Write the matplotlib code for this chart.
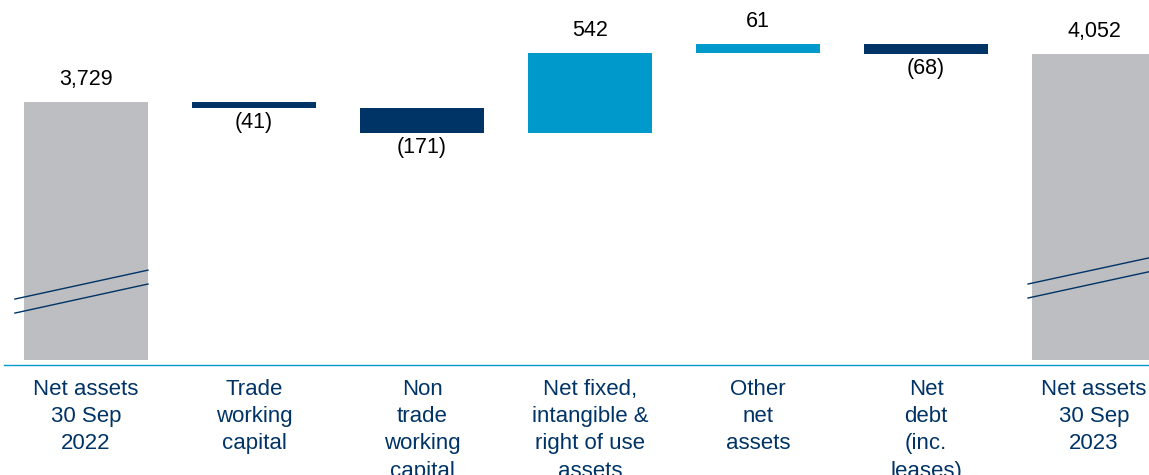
import numpy as np
import matplotlib
matplotlib.use('Agg')
import matplotlib.pyplot as plt

plt.rcParams['font.family'] = ['Liberation Sans', 'DejaVu Sans']

categories = ['Net assets\n30 Sep\n2022', 'Trade\nworking\ncapital',
              'Non\ntrade\nworking\ncapital',
              'Net fixed,\nintangible &\nright of use\nassets',
              'Other\nnet\nassets', 'Net\ndebt\n(inc.\nleases)',
              'Net assets\n30 Sep\n2023']
start_total = 3729
changes = [-41, -171, 542, 61, -68]
end_total = 4052
value_labels = ['3,729', '(41)', '(171)', '542', '61', '(68)', '4,052']

navy = '#003366'
blue = '#0099cc'
grey = '#bdbec1'

# axis is broken: bars start above the floor of the axis
axis_floor = 1944
bar_floor = 1977

fig = plt.figure(figsize=(11.49, 4.75), dpi=100)
ax = fig.add_axes([4/1149, 110/475, 1 - 4/1149, 365/475])

x = np.arange(len(categories))
w = 0.74

# totals
ax.bar(x[0], start_total - bar_floor, bottom=bar_floor, width=w, color=grey)
ax.bar(x[-1], end_total - bar_floor, bottom=bar_floor, width=w, color=grey)

# changes
level = start_total
for i, c in enumerate(changes):
    col = blue if c > 0 else navy
    ax.bar(x[i + 1], abs(c), bottom=min(level, level + c), width=w, color=col)
    level += c

# value labels
level = start_total
for i in range(len(categories)):
    if i == 0:
        y, off = start_total, 16
    elif i == len(categories) - 1:
        y, off = end_total, 16
    else:
        c = changes[i - 1]
        y = level + c
        off = 16 if c > 0 else -10.5
        level += c
    ax.annotate(value_labels[i], (x[i], y), xytext=(0, off),
                textcoords='offset points', ha='center', va='center',
                fontsize=15.5, color='black')

# break marks
for (x0, x1, y0s, y1s) in [(-0.423, 0.369, (2391, 2296), (2587, 2493)),
                           (5.607, 6.375, (2493, 2398), (2682, 2588))]:
    for ya, yb in zip(y0s, y1s):
        ax.plot([x0, x1], [ya, yb], color=navy, lw=1.0)

ax.set_xlim(-0.488, 6.327)
ax.set_ylim(axis_floor, 4418)
ax.set_xticks(x, categories, fontsize=16, color=navy, linespacing=1.39)
ax.tick_params(axis='x', length=0, pad=10)
ax.set_yticks([])
for s in ['top', 'right', 'left']:
    ax.spines[s].set_visible(False)
ax.spines['bottom'].set_color(blue)
ax.spines['bottom'].set_linewidth(1.0)

plt.savefig('out.png', dpi=100)
